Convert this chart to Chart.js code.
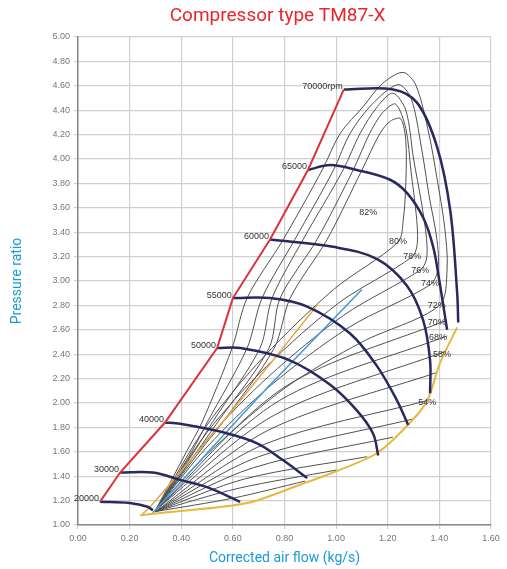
<!DOCTYPE html>
<html>
  <head>
    <title>Compressor type TM87-X</title>
    <style>
      body { margin: 0; background: #fff; }
      #wrap { width: 507px; height: 569px; }
    </style>
  </head>
  <body>
    <div id="wrap"><canvas id="mapChart"></canvas></div>

    <script src="https://cdn.jsdelivr.net/npm/chart.js"></script>
    <script>
      // ticks
      var xTicks = [0, 0.2, 0.4, 0.6, 0.8, 1.0, 1.2, 1.4, 1.6];
      var yTicks = [1.0, 1.2, 1.4, 1.6, 1.8, 2.0, 2.2, 2.4, 2.6, 2.8, 3.0, 3.2, 3.4, 3.6, 3.8, 4.0, 4.2, 4.4, 4.6, 4.8, 5.0];

      // surge line (red)
      var surgeLine = [[0.085, 1.19], [0.163, 1.43], [0.337, 1.84], [0.539, 2.45], [0.60, 2.86], [0.744, 3.34], [0.891, 3.91], [1.03, 4.57]];

      // speed lines
      var speedNames = ["20000", "30000", "40000", "50000", "55000", "60000", "65000", "70000rpm"];
      var speed20 = [[0.085, 1.19], [0.2, 1.18], [0.27, 1.15], [0.29, 1.12]];
      var speed30 = [[0.163, 1.43], [0.29, 1.43], [0.395, 1.37], [0.5, 1.31], [0.628, 1.19]];
      var speed40 = [[0.337, 1.84], [0.395, 1.83], [0.562, 1.76], [0.694, 1.67], [0.795, 1.53], [0.888, 1.385]];
      var speed50 = [[0.539, 2.45], [0.63, 2.45], [0.82, 2.35], [0.977, 2.15], [1.08, 1.94], [1.143, 1.75], [1.163, 1.57]];
      var speed55 = [[0.60, 2.86], [0.744, 2.86], [0.888, 2.79], [1.054, 2.57], [1.159, 2.30], [1.236, 2.02], [1.279, 1.82]];
      var speed60 = [[0.744, 3.34], [0.988, 3.28], [1.159, 3.18], [1.275, 2.96], [1.337, 2.68], [1.364, 2.35], [1.364, 2.08]];
      var speed65 = [[0.891, 3.91], [0.977, 3.95], [1.08, 3.91], [1.209, 3.83], [1.275, 3.72], [1.337, 3.52], [1.376, 3.28], [1.40, 3.0], [1.43, 2.60]];
      var speed70 = [[1.03, 4.57], [1.221, 4.57], [1.314, 4.46], [1.391, 4.10], [1.442, 3.58], [1.469, 2.90], [1.473, 2.66]];
      var speedLines = [speed20, speed30, speed40, speed50, speed55, speed60, speed65, speed70];

      // other lines
      var orangeLine = [[0.25, 1.09], [0.28, 1.15], [0.523, 1.75], [0.694, 2.19], [0.911, 2.76], [0.93, 2.82]];
      var blueLine = [[0.29, 1.10], [0.70, 2.05], [1.10, 2.93]];
      var chokeLine = [[0.24, 1.08], [0.329, 1.10], [0.655, 1.18], [0.86, 1.33], [0.988, 1.43], [1.159, 1.59], [1.287, 1.84], [1.353, 2.02], [1.403, 2.33], [1.469, 2.62]];

      // efficiency contours
      var fan1 = [[0.30, 1.11], [0.60, 1.22], [0.88, 1.36]];
      var fan2 = [[0.30, 1.11], [0.62, 1.30], [1.00, 1.45]];
      var fan3 = [[0.30, 1.11], [0.65, 1.38], [1.12, 1.56]];
      var fan4 = [[0.30, 1.11], [0.68, 1.47], [1.22, 1.72]];
      var fan5 = [[0.30, 1.11], [0.70, 1.56], [1.30, 1.87]];
      var fan54 = [[0.30, 1.11], [0.72, 1.66], [1.353, 2.02]];
      var fan6 = [[0.30, 1.11], [0.74, 1.78], [1.39, 2.25]];
      var fan58 = [[0.30, 1.12], [0.76, 1.90], [1.42, 2.42]];
      var fan68 = [[0.30, 1.12], [0.78, 2.02], [1.43, 2.55]];
      var fan70 = [[0.30, 1.12], [0.80, 2.13], [1.43, 2.68]];
      var eff72 = [[0.30, 1.12], [0.42, 1.60], [0.48, 1.84], [0.597, 2.45], [0.655, 2.86], [0.795, 3.34], [0.946, 3.91], [1.016, 4.21], [1.105, 4.43], [1.18, 4.62], [1.26, 4.71], [1.31, 4.60], [1.36, 4.20], [1.39, 3.85], [1.42, 3.45], [1.43, 3.10], [1.40, 2.80], [1.10, 2.50], [0.80, 2.12], [0.50, 1.58], [0.30, 1.12]];
      var eff74 = [[0.30, 1.12], [0.44, 1.60], [0.50, 1.84], [0.655, 2.45], [0.713, 2.86], [0.84, 3.34], [0.99, 3.91], [1.054, 4.21], [1.14, 4.45], [1.24, 4.61], [1.29, 4.50], [1.33, 4.10], [1.36, 3.70], [1.39, 3.35], [1.395, 3.10], [1.365, 2.97], [1.05, 2.62], [0.75, 2.15], [0.50, 1.64], [0.30, 1.12]];
      var eff76 = [[0.30, 1.12], [0.45, 1.60], [0.52, 1.84], [0.705, 2.45], [0.752, 2.86], [0.872, 3.34], [1.027, 3.91], [1.093, 4.21], [1.16, 4.43], [1.22, 4.54], [1.27, 4.40], [1.30, 4.00], [1.33, 3.65], [1.35, 3.35], [1.35, 3.18], [1.326, 3.09], [1.03, 2.72], [0.74, 2.22], [0.50, 1.70], [0.30, 1.12]];
      var eff78 = [[0.30, 1.12], [0.46, 1.60], [0.54, 1.84], [0.74, 2.45], [0.783, 2.86], [0.926, 3.34], [1.066, 3.91], [1.13, 4.21], [1.18, 4.38], [1.23, 4.45], [1.27, 4.25], [1.29, 3.90], [1.31, 3.55], [1.315, 3.32], [1.295, 3.20], [1.01, 2.82], [0.73, 2.30], [0.50, 1.76], [0.30, 1.12]];
      var eff80 = [[0.30, 1.12], [0.47, 1.60], [0.56, 1.84], [0.76, 2.45], [0.822, 2.86], [0.965, 3.34], [1.10, 3.91], [1.17, 4.21], [1.21, 4.31], [1.25, 4.33], [1.27, 4.15], [1.27, 3.80], [1.26, 3.50], [1.24, 3.32], [0.99, 2.93], [0.72, 2.38], [0.50, 1.82], [0.30, 1.12]];
      var effCurves = [fan1, fan2, fan3, fan4, fan5, fan54, fan6, fan58, fan68, fan70, eff72, eff74, eff76, eff78, eff80];

      // efficiency labels
      var effNames = ["82%", "80%", "78%", "76%", "74%", "72%", "70%", "68%", "58%", "54%"];
      var effLabelX = [1.124, 1.24, 1.295, 1.326, 1.364, 1.39, 1.39, 1.395, 1.41, 1.353];
      var effLabelY = [3.56, 3.32, 3.20, 3.09, 2.98, 2.80, 2.66, 2.54, 2.40, 2.00];

      function toPoints(arr) {
        return arr.map(function (p) {
          return { x: p[0], y: p[1] };
        });
      }

      function lineSet(arr, color, width, tension, order) {
        return {
          data: toPoints(arr),
          showLine: true,
          borderColor: color,
          borderWidth: width,
          pointRadius: 0,
          tension: tension,
          order: order,
        };
      }

      var datasets = [];
      datasets.push(lineSet(surgeLine, "#d9343a", 2, 0, 0));
      speedLines.forEach(function (s) {
        datasets.push(lineSet(s, "#28295f", 2.5, 0.35, 1));
      });
      datasets.push(lineSet(orangeLine, "#e9a445", 1.5, 0.3, 2));
      datasets.push(lineSet(blueLine, "#3d9bd6", 1.5, 0.3, 2));
      datasets.push(lineSet(chokeLine, "#e6b83e", 2, 0.3, 2));
      effCurves.forEach(function (c) {
        datasets.push(lineSet(c, "#505050", 1, 0.3, 3));
      });

      // title and text on the map
      var mapLabels = {
        id: "mapLabels",
        afterDatasetsDraw: function (chart) {
          var ctx = chart.ctx;
          var xs = chart.scales.x;
          var ys = chart.scales.y;
          var area = chart.chartArea;
          ctx.save();
          ctx.font = "19px Roboto";
          ctx.fillStyle = "#e8262b";
          ctx.textAlign = "center";
          ctx.textBaseline = "middle";
          ctx.fillText("Compressor type TM87-X", (area.left + area.right) / 2 - 7, 16);

          ctx.font = "9px 'Liberation Sans'";
          ctx.fillStyle = "#333";
          ctx.textAlign = "right";
          speedLines.forEach(function (s, i) {
            var px = xs.getPixelForValue(s[0][0]);
            var py = ys.getPixelForValue(s[0][1]);
            ctx.fillText(speedNames[i], px - 1, py - 3);
          });
          ctx.textAlign = "center";
          effNames.forEach(function (n, i) {
            ctx.fillText(n, xs.getPixelForValue(effLabelX[i]), ys.getPixelForValue(effLabelY[i]));
          });
          ctx.restore();
        },
      };

      new Chart(document.getElementById("mapChart"), {
        type: "scatter",
        data: { datasets: datasets },
        plugins: [mapLabels],
        options: {
          responsive: true,
          maintainAspectRatio: false,
          animation: false,
          layout: { padding: { left: 9, right: 16, top: 37, bottom: 2 } },
          plugins: {
            legend: { display: false },
            tooltip: { enabled: false },
            title: { display: false },
          },
          scales: {
            x: {
              type: "linear",
              min: 0,
              max: 1.6,
              afterBuildTicks: function (s) {
                s.ticks = xTicks.map(function (v) { return { value: v }; });
              },
              afterFit: function (s) { s.height = 42; },
              ticks: {
                color: "#777",
                font: { family: "Liberation Sans", size: 9 },
                callback: function (v) { return Number(v).toFixed(2); },
                padding: 4,
              },
              grid: { color: "#cfcfcf", lineWidth: 1.2, tickLength: 4 },
              border: { color: "#888", width: 1.5 },
              title: {
                display: true,
                text: "Corrected air flow (kg/s)",
                color: "#1a9ad6",
                font: { family: "Roboto", size: 14 },
                padding: { top: 6, bottom: 0 },
              },
            },
            y: {
              type: "linear",
              min: 1,
              max: 5,
              afterBuildTicks: function (s) {
                s.ticks = yTicks.map(function (v) { return { value: v }; });
              },
              afterFit: function (s) { s.width = 69; },
              ticks: {
                color: "#777",
                font: { family: "Liberation Sans", size: 9 },
                callback: function (v) { return Number(v).toFixed(2); },
                padding: 4,
              },
              grid: { color: "#cfcfcf", lineWidth: 1.2, tickLength: 4 },
              border: { color: "#888", width: 1.5 },
              title: {
                display: true,
                text: "Pressure ratio",
                color: "#1a9ad6",
                font: { family: "Roboto", size: 14 },
                padding: { top: 0, bottom: 14 },
              },
            },
          },
        },
      });
    </script>
  </body>
</html>
